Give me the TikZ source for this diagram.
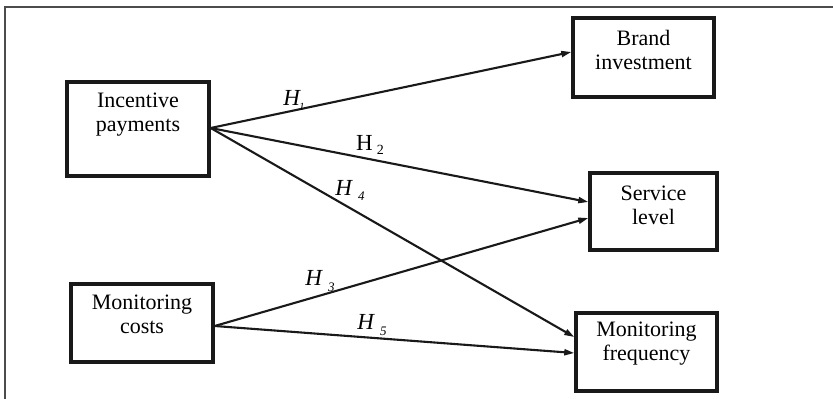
\documentclass[tikz,border=0pt]{standalone}
\usepackage{fontspec}
\setmainfont{Liberation Serif}
\usetikzlibrary{arrows.meta}
\begin{document}
\begin{tikzpicture}[x=1pt,y=-1pt,
  box/.style={draw=black!90,line width=3.4pt,inner sep=0pt},
  txt/.style={align=center,inner sep=0pt,text=black,font=\fontsize{22}{24}\selectfont},
  hlab/.style={inner sep=0pt,text=black,font=\fontsize{23}{24}\selectfont},
  conn/.style={draw=black!90,line width=2.1pt,-{Triangle[length=10pt,width=6pt]}}]
\useasboundingbox (0,0) rectangle (833,399);
\fill[white] (0,0) rectangle (833,399);
% frame
\coordinate (f1) at (5,399);
\coordinate (f2) at (5,7);
\coordinate (f3) at (833,7);
\draw[black!70,line width=1.5pt] (f1) -- (f2) -- (f3);
% boxes
\node[box,minimum width=142pt,minimum height=94pt] (ip) at (138,129) {};
\node[txt] (ipt) at (138,115) {Incentive\\payments};
\node[box,minimum width=142pt,minimum height=78pt] (mc) at (142,323) {};
\node[txt] (mct) at (142,314) {Monitoring\\costs};
\node[box,minimum width=141pt,minimum height=79pt] (bi) at (643.5,57.5) {};
\node[txt] (bit) at (643.5,50) {Brand\\investment};
\node[box,minimum width=127pt,minimum height=77pt] (sl) at (653.5,211.5) {};
\node[txt] (slt) at (653.5,205) {Service\\level};
\node[box,minimum width=141pt,minimum height=78pt] (mf) at (646.5,352) {};
\node[txt] (mft) at (646.5,344) {Monitoring\\frequency};
% connectors
\draw[conn] ([yshift=1pt]ip.east) -- ([yshift=5.5pt]bi.west);
\draw[conn] ([yshift=1pt]ip.east) -- ([yshift=9.5pt]sl.west);
\draw[conn] ([yshift=1pt]ip.east) -- ([yshift=15pt]mf.west);
\draw[conn] ([yshift=-3pt]mc.east) -- ([yshift=-6.5pt]sl.west);
\draw[conn] ([yshift=-3pt]mc.east) -- ([yshift=-1pt]mf.west);
% labels
\node[hlab] (h1) at (294,100) {\textit{H}\hspace{-2pt}\raisebox{-5pt}{\fontsize{11}{11}\selectfont\textit{1}}};
\node[hlab] (h2) at (370,145) {H\hspace{4pt}\raisebox{-4pt}{\fontsize{14}{14}\selectfont 2}};
\node[hlab] (h4) at (350,190) {\textit{H}\hspace{5pt}\raisebox{-5pt}{\fontsize{13}{13}\selectfont\textit{4}}};
\node[hlab] (h3) at (320,281) {\textit{H}\hspace{5pt}\raisebox{-6pt}{\fontsize{13}{13}\selectfont\textit{3}}};
\node[hlab] (h5) at (372,325) {\textit{H}\hspace{5pt}\raisebox{-6pt}{\fontsize{13}{13}\selectfont\textit{5}}};
\end{tikzpicture}
\end{document}
